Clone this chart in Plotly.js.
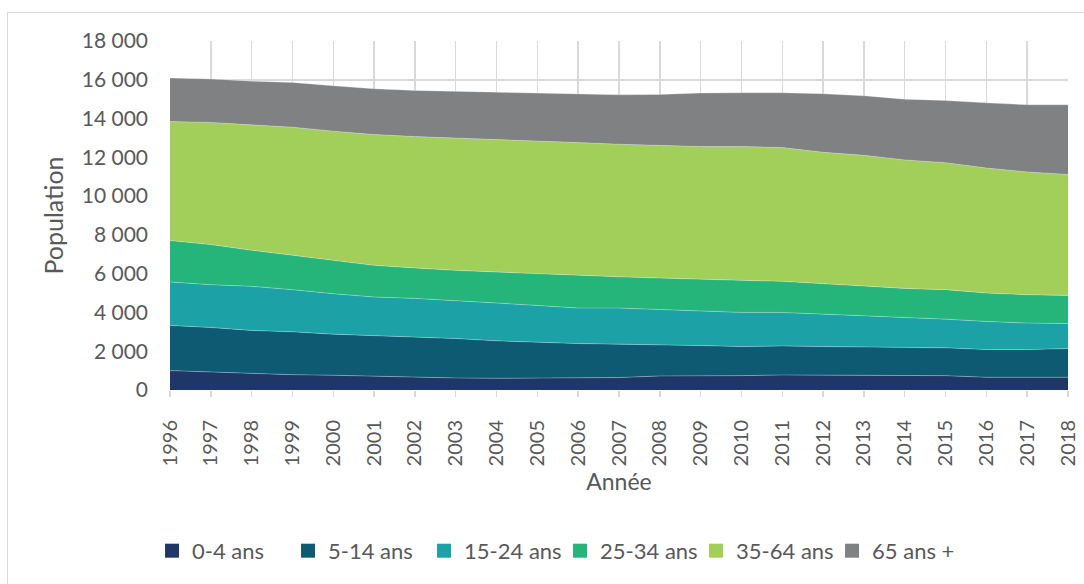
<!DOCTYPE html>
<html>
<head>
<meta charset="utf-8">
<script src="https://cdn.plot.ly/plotly-3.0.1.min.js"></script>
<style>
html,body{margin:0;padding:0;background:#fff;overflow:hidden;}
#frame{position:absolute;left:7px;top:12px;width:1200px;height:700px;border:1.5px solid #d9d9d9;box-sizing:border-box;}
#chart{position:absolute;left:0;top:0;width:1084px;height:584px;}
</style>
</head>
<body>
<div id="frame"></div>
<div id="chart"></div>
<script>
const years = [1996,1997,1998,1999,2000,2001,2002,2003,2004,2005,2006,2007,2008,2009,2010,2011,2012,2013,2014,2015,2016,2017,2018];
const seriesNames = ["0-4 ans","5-14 ans","15-24 ans","25-34 ans","35-64 ans","65 ans +"];
const ages0_4   = [1000,930,845,790,760,710,655,620,605,605,605,640,725,725,740,775,760,740,740,740,655,655,655];
const ages5_14  = [2330,2295,2225,2210,2120,2100,2105,2035,1930,1845,1790,1725,1585,1565,1500,1500,1480,1470,1450,1435,1430,1430,1480];
const ages15_24 = [2245,2205,2275,2175,2085,1985,1965,1965,1950,1910,1830,1860,1830,1760,1760,1725,1675,1620,1535,1480,1450,1365,1295];
const ages25_34 = [2135,2070,1865,1775,1710,1635,1570,1550,1600,1640,1675,1615,1635,1655,1655,1605,1555,1535,1515,1520,1465,1465,1450];
const ages35_64 = [6140,6300,6465,6605,6675,6745,6775,6830,6850,6865,6860,6835,6830,6850,6900,6900,6790,6740,6625,6550,6450,6330,6240];
const ages65p   = [2240,2240,2255,2310,2340,2360,2380,2400,2430,2450,2500,2550,2640,2760,2775,2825,3020,3070,3135,3210,3360,3465,3590];
const colors = ["#1F3766","#0F5A73","#1BA1A6","#25B57A","#A2CF5A","#808183"];

const values = [ages0_4, ages5_14, ages15_24, ages25_34, ages35_64, ages65p];
const traces = [];
values.forEach((v,i)=>{
  traces.push({
    type:'scatter', mode:'lines', x:years, y:v, name:seriesNames[i],
    stackgroup:'one', fillcolor:colors[i],
    line:{color:'rgba(255,255,255,0.35)', width:0.8, shape:'linear'},
    showlegend:false, hoverinfo:'x+y+name'
  });
});
values.forEach((v,i)=>{
  traces.push({
    type:'scatter', mode:'markers', x:[null], y:[null], name:seriesNames[i],
    marker:{symbol:'square', size:14, color:colors[i]},
    showlegend:true
  });
});

const font = "Lato, 'Open Sans', sans-serif";
const layout = {
  width:1084, height:584,
  margin:{l:170, r:16, t:41, b:194},
  paper_bgcolor:'rgba(0,0,0,0)', plot_bgcolor:'#fff',
  separators:', ',
  font:{family:font, color:'#595959', size:20},
  showlegend:true,
  xaxis:{
    type:'linear', range:[1996,2018], dtick:1, tick0:1996,
    tickangle:-90, ticks:'outside', ticklen:6, tickcolor:'#d9d9d9', tickwidth:1.5,
    showgrid:true, gridcolor:'#d9d9d9', gridwidth:1.5,
    showline:false, zeroline:false, mirror:false,
    tickfont:{family:font, size:20, color:'#595959'},
    ticklabelstandoff:15,
    title:{text:'Année', font:{family:font, size:23, color:'#595959'}, standoff:8}
  },
  yaxis:{
    range:[0,18000], dtick:2000, tickformat:',d',
    showgrid:true, gridcolor:'#d9d9d9', gridwidth:1.5,
    zeroline:false, showline:false, ticks:'',
    tickfont:{family:font, size:21, color:'#595959'},
    ticklabelstandoff:21,
    title:{text:'Population', font:{family:font, size:25, color:'#595959'}, standoff:10}
  },
  legend:{
    orientation:'h', x:-0.02, xanchor:'left', y:-0.461, yanchor:'middle',
    traceorder:'normal', font:{family:font, size:22, color:'#595959'},
    itemwidth:30, bgcolor:'rgba(0,0,0,0)',
    entrywidth:91, entrywidthmode:'pixels'
  }
};
Plotly.newPlot('chart', traces, layout, {displayModeBar:false, staticPlot:true});
</script>
</body>
</html>
